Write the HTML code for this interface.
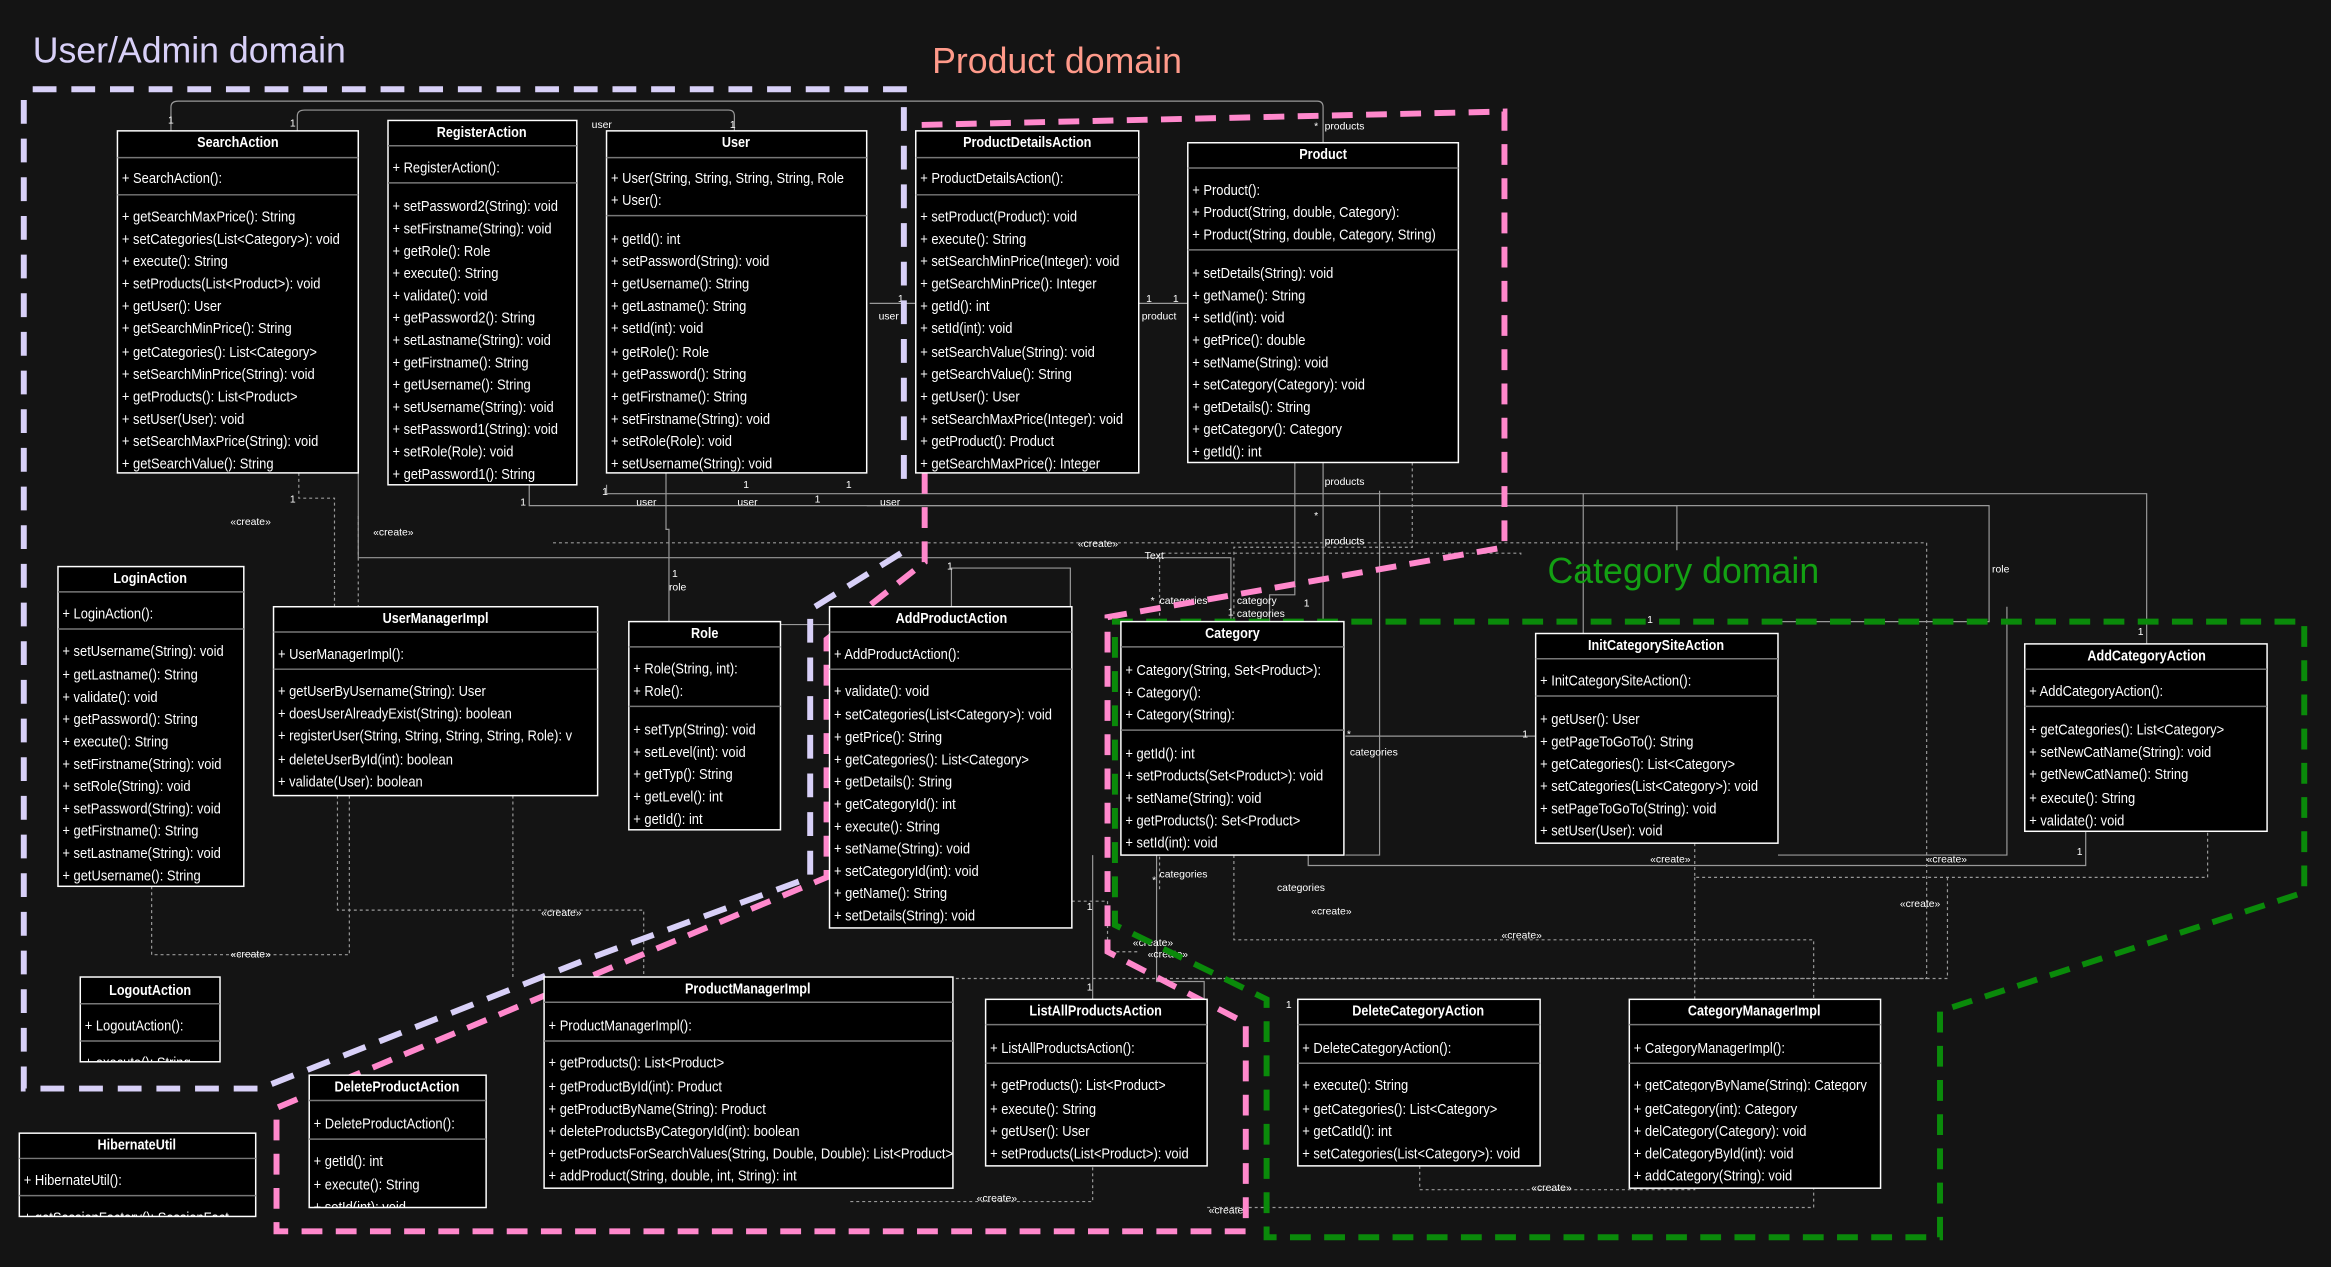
<!DOCTYPE html>
<html><head><meta charset="utf-8">
<style>
html,body{margin:0;padding:0;background:#141414;}
svg{display:block}
.t{font-family:"Liberation Sans",sans-serif;font-size:10px;fill:#fff;transform:scaleX(.87);transform-box:fill-box;transform-origin:0% 50%;}
.h{font-family:"Liberation Sans",sans-serif;font-size:10px;font-weight:bold;fill:#fff;text-anchor:middle;transform:scaleX(.85);transform-box:fill-box;transform-origin:50% 50%;}
.s{font-family:"Liberation Sans",sans-serif;font-size:7px;fill:#fff;}
.box{fill:#000;stroke:#fff;stroke-width:1}
.dv{stroke:#777;stroke-width:1}
.c{fill:none;stroke:#999;stroke-width:.8}
.d{fill:none;stroke:#999;stroke-width:.8;stroke-dasharray:2 2}
</style></head><body>
<svg width="2331" height="1267" viewBox="0 0 1568 852" preserveAspectRatio="none" xmlns="http://www.w3.org/2000/svg">
<rect width="1568" height="852" fill="#141414"/>

<g>
<path class="c" d="M115 88 V72 Q115 68 120 68 H886 Q890 68 890 72 V96"/>
<path class="c" d="M200 88 V78 Q200 74 205 74 H490 Q494 74 494 78 V88"/>
<path class="c" d="M616 204 H585"/>
<path class="c" d="M766 204 H799"/>
<path class="c" d="M241 318 V375 H828 V418"/>
<path class="c" d="M356 326 V340 H1128 V370"/>
<path class="c" d="M583 340 H1338 V418 H1196"/>
<path class="c" d="M448 318 V356 H450 V418"/>
<path class="c" d="M408 326 V332 H1444 V433"/>
<path class="c" d="M890 311 V418"/>
<path class="c" d="M871 311 V400 H854 V418"/>
<path class="c" d="M640 408 V382 H720 V408"/>
<path class="c" d="M1065 332 V426"/>
<path class="c" d="M1033 495 H905"/>
<path class="c" d="M1403 559 V582 H880 V575"/>
<path class="c" d="M778 575 V660 H810 V672"/>
<path class="c" d="M735 575 V672"/>
<path class="c" d="M928 330 V575 H905"/>
<path class="c" d="M1350 408 V575 H1196"/>
<path class="c" d="M720 420 H525"/>
<path class="d" d="M102 596 V642 H235 V535"/>
<path class="d" d="M201 318 V335 H225 V408"/>
<path class="d" d="M241 347 V408"/>
<path class="d" d="M227 535 V612 H433 V657"/>
<path class="d" d="M372 365 H1296 V658 H530 V657"/>
<path class="d" d="M345 535 V657"/>
<path class="d" d="M950 311 V368 H830 V632 H1220 V672"/>
<path class="d" d="M1140 567 V590 H1485 V559"/>
<path class="d" d="M1310 590 V658 H800"/>
<path class="d" d="M955 784 V800 H1140 V799"/>
<path class="d" d="M812 812 H1220 V799"/>
<path class="d" d="M572 808 H735 V784"/>
<path class="d" d="M1140 590 V672"/>
<path class="d" d="M1023 373 V372 H780 V600"/>
<path class="d" d="M721 606 H745 V640 H765"/>
</g>
<g class="s">
<text x="398" y="86">user</text><text x="113" y="83">1</text><text x="195" y="85">1</text><text x="491" y="86">1</text>
<text x="591" y="215">user</text><text x="604" y="203">1</text><text x="768" y="215">product</text><text x="771" y="203">1</text><text x="789" y="203">1</text>
<text x="891" y="87">products</text><text x="884" y="87">*</text>
<text x="891" y="326">products</text><text x="891" y="366">products</text><text x="884" y="349">*</text>
<text x="428" y="340">user</text><text x="496" y="340">user</text><text x="592" y="340">user</text>
<text x="405" y="333">1</text><text x="350" y="340">1</text><text x="195" y="338">1</text><text x="548" y="338">1</text><text x="569" y="328">1</text><text x="500" y="328">1</text>
<text x="452" y="388">1</text><text x="450" y="397">role</text><text x="1340" y="385">role</text>
<text x="155" y="353">«create»</text><text x="251" y="360">«create»</text><text x="725" y="368">«create»</text><text x="770" y="376">Text</text>
<text x="780" y="406">categories</text><text x="774" y="406">*</text><text x="832" y="406">category</text><text x="826" y="414">1</text><text x="832" y="415">categories</text><text x="877" y="408">1</text>
<text x="637" y="383">1</text><text x="663" y="430">1</text><text x="1108" y="419">1</text><text x="1438" y="427">1</text>
<text x="908" y="508">categories</text><text x="906" y="496">*</text><text x="1024" y="496">1</text>
<text x="780" y="590">categories</text><text x="775" y="594">*</text><text x="859" y="599">categories</text>
<text x="1110" y="580">«create»</text><text x="1296" y="580">«create»</text><text x="1278" y="610">«create»</text><text x="882" y="615">«create»</text><text x="1010" y="631">«create»</text>
<text x="762" y="636">«create»</text><text x="772" y="644">«create»</text><text x="155" y="644">«create»</text><text x="364" y="616">«create»</text>
<text x="1397" y="575">1</text><text x="731" y="612">1</text><text x="731" y="666">1</text><text x="865" y="678">1</text>
<text x="1030" y="801">«create»</text><text x="657" y="808">«create»</text><text x="813" y="816">«create»</text>
</g>

<path d="M22 60 H608 V330 M606 372 L545 410 V590 L395 645 L175 732 H16 V60" fill="none" stroke="#d8d0f8" stroke-width="4" stroke-dasharray="16 10"/>
<path d="M620 84 L1012 75 V368 L745 415 V640 L838 688 V828 H186 V745 L556 590 V430 L622 378 V84" fill="none" stroke="#ff88cc" stroke-width="4" stroke-dasharray="14 9"/>
<path d="M748 418 H1550 V600 L1305 680 V832 H852 V672 L750 622 V418" fill="none" stroke="#0a8a0a" stroke-width="4" stroke-dasharray="14 9"/>

<text x="22" y="42" font-family="Liberation Sans,sans-serif" font-size="24" fill="#d8d0f8">User/Admin domain</text>
<text x="627" y="49" font-family="Liberation Sans,sans-serif" font-size="24" fill="#ff9a8a">Product domain</text>
<text x="1041" y="392" font-family="Liberation Sans,sans-serif" font-size="24" fill="#13a013">Category domain</text>

<rect class="box" x="79" y="88" width="162" height="230"/>
<line class="dv" x1="79" y1="106" x2="241" y2="106"/><line class="dv" x1="79" y1="131" x2="241" y2="131"/>
<text class="h" x="160" y="99">SearchAction</text>
<text class="t" x="82" y="123">+ SearchAction():</text>
<text class="t" x="82" y="149">+ getSearchMaxPrice(): String</text>
<text class="t" x="82" y="164">+ setCategories(List&lt;Category&gt;): void</text>
<text class="t" x="82" y="179">+ execute(): String</text>
<text class="t" x="82" y="194">+ setProducts(List&lt;Product&gt;): void</text>
<text class="t" x="82" y="209">+ getUser(): User</text>
<text class="t" x="82" y="224">+ getSearchMinPrice(): String</text>
<text class="t" x="82" y="240">+ getCategories(): List&lt;Category&gt;</text>
<text class="t" x="82" y="255">+ setSearchMinPrice(String): void</text>
<text class="t" x="82" y="270">+ getProducts(): List&lt;Product&gt;</text>
<text class="t" x="82" y="285">+ setUser(User): void</text>
<text class="t" x="82" y="300">+ setSearchMaxPrice(String): void</text>
<text class="t" x="82" y="315">+ getSearchValue(): String</text>

<rect class="box" x="261" y="81" width="127" height="245"/>
<line class="dv" x1="261" y1="98" x2="388" y2="98"/><line class="dv" x1="261" y1="123" x2="388" y2="123"/>
<text class="h" x="324" y="92">RegisterAction</text>
<text class="t" x="264" y="116">+ RegisterAction():</text>
<text class="t" x="264" y="142">+ setPassword2(String): void</text>
<text class="t" x="264" y="157">+ setFirstname(String): void</text>
<text class="t" x="264" y="172">+ getRole(): Role</text>
<text class="t" x="264" y="187">+ execute(): String</text>
<text class="t" x="264" y="202">+ validate(): void</text>
<text class="t" x="264" y="217">+ getPassword2(): String</text>
<text class="t" x="264" y="232">+ setLastname(String): void</text>
<text class="t" x="264" y="247">+ getFirstname(): String</text>
<text class="t" x="264" y="262">+ getUsername(): String</text>
<text class="t" x="264" y="277">+ setUsername(String): void</text>
<text class="t" x="264" y="292">+ setPassword1(String): void</text>
<text class="t" x="264" y="307">+ setRole(Role): void</text>
<text class="t" x="264" y="322">+ getPassword1(): String</text>

<rect class="box" x="408" y="88" width="175" height="230"/>
<line class="dv" x1="408" y1="106" x2="583" y2="106"/><line class="dv" x1="408" y1="145" x2="583" y2="145"/>
<text class="h" x="495" y="99">User</text>
<text class="t" x="411" y="123">+ User(String, String, String, String, Role</text>
<text class="t" x="411" y="138">+ User():</text>
<text class="t" x="411" y="164">+ getId(): int</text>
<text class="t" x="411" y="179">+ setPassword(String): void</text>
<text class="t" x="411" y="194">+ getUsername(): String</text>
<text class="t" x="411" y="209">+ getLastname(): String</text>
<text class="t" x="411" y="224">+ setId(int): void</text>
<text class="t" x="411" y="240">+ getRole(): Role</text>
<text class="t" x="411" y="255">+ getPassword(): String</text>
<text class="t" x="411" y="270">+ getFirstname(): String</text>
<text class="t" x="411" y="285">+ setFirstname(String): void</text>
<text class="t" x="411" y="300">+ setRole(Role): void</text>
<text class="t" x="411" y="315">+ setUsername(String): void</text>

<rect class="box" x="616" y="88" width="150" height="230"/>
<line class="dv" x1="616" y1="106" x2="766" y2="106"/><line class="dv" x1="616" y1="131" x2="766" y2="131"/>
<text class="h" x="691" y="99">ProductDetailsAction</text>
<text class="t" x="619" y="123">+ ProductDetailsAction():</text>
<text class="t" x="619" y="149">+ setProduct(Product): void</text>
<text class="t" x="619" y="164">+ execute(): String</text>
<text class="t" x="619" y="179">+ setSearchMinPrice(Integer): void</text>
<text class="t" x="619" y="194">+ getSearchMinPrice(): Integer</text>
<text class="t" x="619" y="209">+ getId(): int</text>
<text class="t" x="619" y="224">+ setId(int): void</text>
<text class="t" x="619" y="240">+ setSearchValue(String): void</text>
<text class="t" x="619" y="255">+ getSearchValue(): String</text>
<text class="t" x="619" y="270">+ getUser(): User</text>
<text class="t" x="619" y="285">+ setSearchMaxPrice(Integer): void</text>
<text class="t" x="619" y="300">+ getProduct(): Product</text>
<text class="t" x="619" y="315">+ getSearchMaxPrice(): Integer</text>

<rect class="box" x="799" y="96" width="182" height="215"/>
<line class="dv" x1="799" y1="113" x2="981" y2="113"/><line class="dv" x1="799" y1="168" x2="981" y2="168"/>
<text class="h" x="890" y="107">Product</text>
<text class="t" x="802" y="131">+ Product():</text>
<text class="t" x="802" y="146">+ Product(String, double, Category):</text>
<text class="t" x="802" y="161">+ Product(String, double, Category, String)</text>
<text class="t" x="802" y="187">+ setDetails(String): void</text>
<text class="t" x="802" y="202">+ getName(): String</text>
<text class="t" x="802" y="217">+ setId(int): void</text>
<text class="t" x="802" y="232">+ getPrice(): double</text>
<text class="t" x="802" y="247">+ setName(String): void</text>
<text class="t" x="802" y="262">+ setCategory(Category): void</text>
<text class="t" x="802" y="277">+ getDetails(): String</text>
<text class="t" x="802" y="292">+ getCategory(): Category</text>
<text class="t" x="802" y="307">+ getId(): int</text>

<rect class="box" x="39" y="381" width="125" height="215"/>
<line class="dv" x1="39" y1="398" x2="164" y2="398"/><line class="dv" x1="39" y1="423" x2="164" y2="423"/>
<text class="h" x="101" y="392">LoginAction</text>
<text class="t" x="42" y="416">+ LoginAction():</text>
<text class="t" x="42" y="441">+ setUsername(String): void</text>
<text class="t" x="42" y="457">+ getLastname(): String</text>
<text class="t" x="42" y="472">+ validate(): void</text>
<text class="t" x="42" y="487">+ getPassword(): String</text>
<text class="t" x="42" y="502">+ execute(): String</text>
<text class="t" x="42" y="517">+ setFirstname(String): void</text>
<text class="t" x="42" y="532">+ setRole(String): void</text>
<text class="t" x="42" y="547">+ setPassword(String): void</text>
<text class="t" x="42" y="562">+ getFirstname(): String</text>
<text class="t" x="42" y="577">+ setLastname(String): void</text>
<text class="t" x="42" y="592">+ getUsername(): String</text>

<rect class="box" x="184" y="408" width="218" height="127"/>
<line class="dv" x1="184" y1="425" x2="402" y2="425"/><line class="dv" x1="184" y1="450" x2="402" y2="450"/>
<text class="h" x="293" y="419">UserManagerImpl</text>
<text class="t" x="187" y="443">+ UserManagerImpl():</text>
<text class="t" x="187" y="468">+ getUserByUsername(String): User</text>
<text class="t" x="187" y="483">+ doesUserAlreadyExist(String): boolean</text>
<text class="t" x="187" y="498">+ registerUser(String, String, String, String, Role): v</text>
<text class="t" x="187" y="514">+ deleteUserById(int): boolean</text>
<text class="t" x="187" y="529">+ validate(User): boolean</text>

<rect class="box" x="423" y="418" width="102" height="140"/>
<line class="dv" x1="423" y1="435" x2="525" y2="435"/><line class="dv" x1="423" y1="475" x2="525" y2="475"/>
<text class="h" x="474" y="429">Role</text>
<text class="t" x="426" y="453">+ Role(String, int):</text>
<text class="t" x="426" y="468">+ Role():</text>
<text class="t" x="426" y="494">+ setTyp(String): void</text>
<text class="t" x="426" y="509">+ setLevel(int): void</text>
<text class="t" x="426" y="524">+ getTyp(): String</text>
<text class="t" x="426" y="539">+ getLevel(): int</text>
<text class="t" x="426" y="554">+ getId(): int</text>

<rect class="box" x="558" y="408" width="163" height="216"/>
<line class="dv" x1="558" y1="425" x2="721" y2="425"/><line class="dv" x1="558" y1="450" x2="721" y2="450"/>
<text class="h" x="640" y="419">AddProductAction</text>
<text class="t" x="561" y="443">+ AddProductAction():</text>
<text class="t" x="561" y="468">+ validate(): void</text>
<text class="t" x="561" y="484">+ setCategories(List&lt;Category&gt;): void</text>
<text class="t" x="561" y="499">+ getPrice(): String</text>
<text class="t" x="561" y="514">+ getCategories(): List&lt;Category&gt;</text>
<text class="t" x="561" y="529">+ getDetails(): String</text>
<text class="t" x="561" y="544">+ getCategoryId(): int</text>
<text class="t" x="561" y="559">+ execute(): String</text>
<text class="t" x="561" y="574">+ setName(String): void</text>
<text class="t" x="561" y="589">+ setCategoryId(int): void</text>
<text class="t" x="561" y="604">+ getName(): String</text>
<text class="t" x="561" y="619">+ setDetails(String): void</text>

<rect class="box" x="754" y="418" width="150" height="157"/>
<line class="dv" x1="754" y1="435" x2="904" y2="435"/><line class="dv" x1="754" y1="491" x2="904" y2="491"/>
<text class="h" x="829" y="429">Category</text>
<text class="t" x="757" y="454">+ Category(String, Set&lt;Product&gt;):</text>
<text class="t" x="757" y="469">+ Category():</text>
<text class="t" x="757" y="484">+ Category(String):</text>
<text class="t" x="757" y="510">+ getId(): int</text>
<text class="t" x="757" y="525">+ setProducts(Set&lt;Product&gt;): void</text>
<text class="t" x="757" y="540">+ setName(String): void</text>
<text class="t" x="757" y="555">+ getProducts(): Set&lt;Product&gt;</text>
<text class="t" x="757" y="570">+ setId(int): void</text>

<rect class="box" x="1033" y="426" width="163" height="141"/>
<line class="dv" x1="1033" y1="443" x2="1196" y2="443"/><line class="dv" x1="1033" y1="468" x2="1196" y2="468"/>
<text class="h" x="1114" y="437">InitCategorySiteAction</text>
<text class="t" x="1036" y="461">+ InitCategorySiteAction():</text>
<text class="t" x="1036" y="487">+ getUser(): User</text>
<text class="t" x="1036" y="502">+ getPageToGoTo(): String</text>
<text class="t" x="1036" y="517">+ getCategories(): List&lt;Category&gt;</text>
<text class="t" x="1036" y="532">+ setCategories(List&lt;Category&gt;): void</text>
<text class="t" x="1036" y="547">+ setPageToGoTo(String): void</text>
<text class="t" x="1036" y="562">+ setUser(User): void</text>

<rect class="box" x="1362" y="433" width="163" height="126"/>
<line class="dv" x1="1362" y1="450" x2="1525" y2="450"/><line class="dv" x1="1362" y1="475" x2="1525" y2="475"/>
<text class="h" x="1444" y="444">AddCategoryAction</text>
<text class="t" x="1365" y="468">+ AddCategoryAction():</text>
<text class="t" x="1365" y="494">+ getCategories(): List&lt;Category&gt;</text>
<text class="t" x="1365" y="509">+ setNewCatName(String): void</text>
<text class="t" x="1365" y="524">+ getNewCatName(): String</text>
<text class="t" x="1365" y="540">+ execute(): String</text>
<text class="t" x="1365" y="555">+ validate(): void</text>

<rect class="box" x="54" y="657" width="94" height="57"/>
<line class="dv" x1="54" y1="675" x2="148" y2="675"/><line class="dv" x1="54" y1="700" x2="148" y2="700"/>
<text class="h" x="101" y="669">LogoutAction</text>
<text class="t" x="57" y="693">+ LogoutAction():</text>
<svg x="54" y="700" width="94" height="14" overflow="hidden"><text class="t" x="3" y="18">+ execute(): String</text></svg>

<rect class="box" x="13" y="762" width="159" height="56"/>
<line class="dv" x1="13" y1="779" x2="172" y2="779"/><line class="dv" x1="13" y1="804" x2="172" y2="804"/>
<text class="h" x="92" y="773">HibernateUtil</text>
<text class="t" x="16" y="797">+ HibernateUtil():</text>
<svg x="13" y="804" width="159" height="14" overflow="hidden"><text class="t" x="3" y="18">+ getSessionFactory(): SessionFact</text></svg>

<rect class="box" x="208" y="723" width="119" height="89"/>
<line class="dv" x1="208" y1="740" x2="327" y2="740"/><line class="dv" x1="208" y1="766" x2="327" y2="766"/>
<text class="h" x="267" y="734">DeleteProductAction</text>
<text class="t" x="211" y="759">+ DeleteProductAction():</text>
<text class="t" x="211" y="784">+ getId(): int</text>
<text class="t" x="211" y="800">+ execute(): String</text>
<svg x="208" y="804" width="119" height="8" overflow="hidden"><text class="t" x="3" y="11">+ setId(int): void</text></svg>

<rect class="box" x="366" y="657" width="275" height="142"/>
<line class="dv" x1="366" y1="674" x2="641" y2="674"/><line class="dv" x1="366" y1="700" x2="641" y2="700"/>
<text class="h" x="503" y="668">ProductManagerImpl</text>
<text class="t" x="369" y="693">+ ProductManagerImpl():</text>
<text class="t" x="369" y="718">+ getProducts(): List&lt;Product&gt;</text>
<text class="t" x="369" y="734">+ getProductById(int): Product</text>
<text class="t" x="369" y="749">+ getProductByName(String): Product</text>
<text class="t" x="369" y="764">+ deleteProductsByCategoryId(int): boolean</text>
<svg x="366" y="767" width="275" height="14" overflow="hidden"><text class="t" x="3" y="12">+ getProductsForSearchValues(String, Double, Double): List&lt;Product&gt;</text></svg>
<text class="t" x="369" y="794">+ addProduct(String, double, int, String): int</text>

<rect class="box" x="663" y="672" width="149" height="112"/>
<line class="dv" x1="663" y1="689" x2="812" y2="689"/><line class="dv" x1="663" y1="715" x2="812" y2="715"/>
<text class="h" x="737" y="683">ListAllProductsAction</text>
<text class="t" x="666" y="708">+ ListAllProductsAction():</text>
<text class="t" x="666" y="733">+ getProducts(): List&lt;Product&gt;</text>
<text class="t" x="666" y="749">+ execute(): String</text>
<text class="t" x="666" y="764">+ getUser(): User</text>
<text class="t" x="666" y="779">+ setProducts(List&lt;Product&gt;): void</text>

<rect class="box" x="873" y="672" width="163" height="112"/>
<line class="dv" x1="873" y1="689" x2="1036" y2="689"/><line class="dv" x1="873" y1="715" x2="1036" y2="715"/>
<text class="h" x="954" y="683">DeleteCategoryAction</text>
<text class="t" x="876" y="708">+ DeleteCategoryAction():</text>
<text class="t" x="876" y="733">+ execute(): String</text>
<text class="t" x="876" y="749">+ getCategories(): List&lt;Category&gt;</text>
<text class="t" x="876" y="764">+ getCatId(): int</text>
<text class="t" x="876" y="779">+ setCategories(List&lt;Category&gt;): void</text>

<rect class="box" x="1096" y="672" width="169" height="127"/>
<line class="dv" x1="1096" y1="689" x2="1265" y2="689"/><line class="dv" x1="1096" y1="715" x2="1265" y2="715"/>
<text class="h" x="1180" y="683">CategoryManagerImpl</text>
<text class="t" x="1099" y="708">+ CategoryManagerImpl():</text>
<svg x="1096" y="720" width="169" height="14" overflow="hidden"><text class="t" x="3" y="13">+ getCategoryByName(String): Category</text></svg>
<text class="t" x="1099" y="749">+ getCategory(int): Category</text>
<text class="t" x="1099" y="764">+ delCategory(Category): void</text>
<text class="t" x="1099" y="779">+ delCategoryById(int): void</text>
<text class="t" x="1099" y="794">+ addCategory(String): void</text>
</svg>
</body></html>
